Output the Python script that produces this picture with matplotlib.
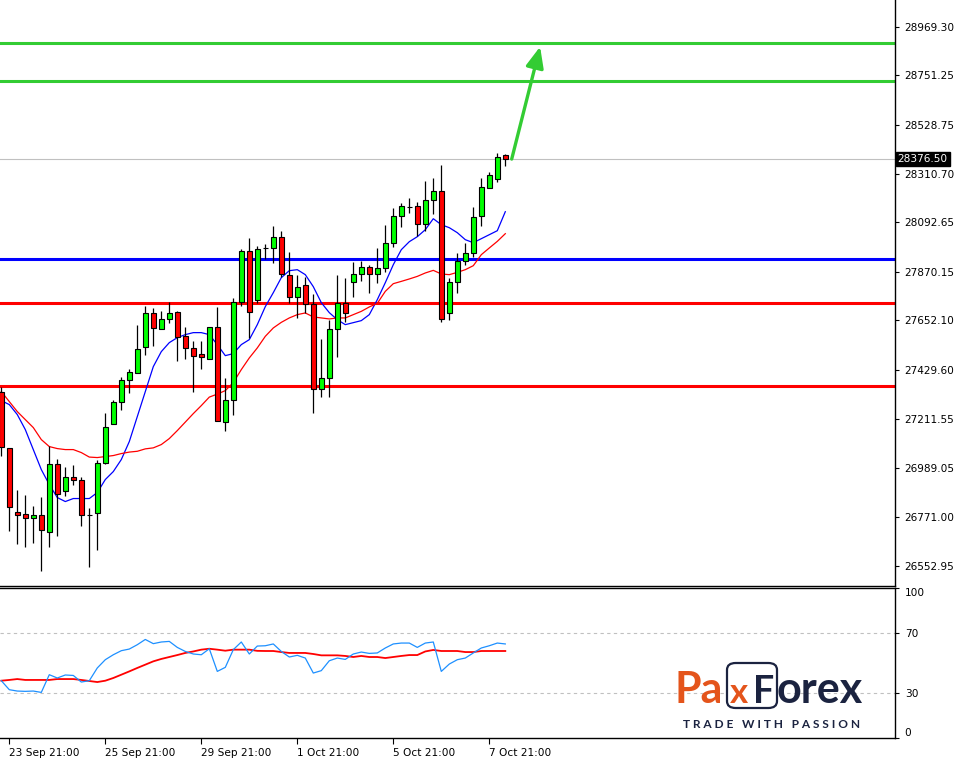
import matplotlib
matplotlib.use("Agg")
import matplotlib.pyplot as plt
import numpy as np
from matplotlib.patches import FancyBboxPatch
from matplotlib.transforms import blended_transform_factory

W, H = 966, 763

# ---------------- data ----------------
opens = [27333.0, 27081.9, 26795.0, 26786.0, 26768.1, 26781.6, 26705.3, 27010.2, 26889.1, 26951.9,
         26938.5, 26781.6, 26790.5, 27014.7, 27189.5, 27288.1, 27386.8, 27418.1, 27534.7, 27687.1,
         27615.4, 27660.2, 27691.6, 27584.0, 27530.2, 27503.3, 27480.9, 27624.4, 27198.5, 27297.1,
         27736.4, 27965.1, 27745.4, 27978.5, 27978.5, 28027.8, 27857.5, 27758.8, 27812.6, 27727.5,
         27346.4, 27395.7, 27615.4, 27732.0, 27826.1, 27862.0, 27893.3, 27862.0, 27888.9, 28000.9,
         28122.0, 28162.3, 28166.8, 28086.1, 28193.7, 28234.0, 27687.1, 27826.1, 27920.2, 27956.1,
         28122.0, 28247.5, 28287.8, 28395.4]
highs = [27355.4, 27081.9, 26893.6, 26871.2, 26821.9, 26862.2, 27090.9, 27032.6, 26996.7, 27005.7,
         26951.9, 26812.9, 27028.1, 27238.8, 27297.1, 27400.2, 27436.1, 27633.3, 27718.5, 27709.5,
         27696.1, 27736.4, 27696.1, 27624.4, 27561.6, 27561.6, 27624.4, 27714.0, 27395.7, 27754.4,
         27974.0, 28023.3, 27987.5, 27996.4, 28077.1, 28054.7, 27960.6, 27857.5, 27848.5, 27772.3,
         27570.6, 27655.7, 27857.5, 27844.0, 27915.8, 27920.2, 27902.3, 27978.5, 28081.6, 28157.8,
         28180.3, 28202.7, 28184.7, 28278.9, 28292.3, 28350.6, 27844.0, 27956.1, 28000.9, 28162.3,
         28292.3, 28319.2, 28404.4, 28399.9]
lows = [27046.1, 26709.8, 26651.5, 26638.1, 26656.0, 26530.5, 26638.1, 26687.4, 26866.7, 26916.0,
        26732.2, 26548.4, 26624.6, 27010.2, 27189.5, 27252.3, 27328.5, 27418.1, 27498.8, 27539.2,
        27615.4, 27642.3, 27471.9, 27480.9, 27333.0, 27436.1, 27480.9, 27203.0, 27158.1, 27229.9,
        27718.5, 27575.0, 27732.0, 27929.2, 27911.3, 27848.5, 27732.0, 27664.7, 27687.1, 27238.8,
        27310.5, 27310.5, 27489.9, 27646.8, 27758.8, 27830.6, 27776.8, 27821.6, 27870.9, 27983.0,
        28072.7, 28135.4, 28032.3, 28054.7, 28130.9, 27646.8, 27655.7, 27776.8, 27902.3, 27938.2,
        28077.1, 28247.5, 28274.4, 28346.1]
closes = [27086.4, 26817.4, 26781.6, 26768.1, 26781.6, 26714.3, 27010.2, 26875.7, 26951.9, 26938.5,
          26781.6, 26781.6, 27014.7, 27176.1, 27288.1, 27386.8, 27422.6, 27525.7, 27687.1, 27619.9,
          27660.2, 27687.1, 27579.5, 27530.2, 27494.3, 27489.9, 27624.4, 27203.0, 27297.1, 27736.4,
          27965.1, 27691.6, 27974.0, 27978.5, 28027.8, 27862.0, 27758.8, 27803.7, 27727.5, 27346.4,
          27395.7, 27615.4, 27732.0, 27687.1, 27862.0, 27893.3, 27862.0, 27888.9, 28000.9, 28122.0,
          28166.8, 28162.3, 28086.1, 28193.7, 28234.0, 27660.2, 27826.1, 27920.2, 27956.1, 28117.5,
          28252.0, 28305.8, 28386.5, 28376.5]

ma_fast = [27292.6, 27274.7, 27229.9, 27162.6, 27072.9, 26983.3, 26916.0, 26857.8, 26839.8, 26853.3,
           26853.3, 26853.3, 26880.2, 26938.5, 26974.3, 27028.1, 27108.8, 27220.9, 27333.0, 27445.0,
           27512.3, 27552.6, 27575.0, 27588.5, 27597.5, 27597.5, 27588.5, 27543.7, 27494.3, 27503.3,
           27543.7, 27566.1, 27633.3, 27714.0, 27776.8, 27844.0, 27875.4, 27879.9, 27857.5, 27803.7,
           27732.0, 27687.1, 27655.7, 27633.3, 27642.3, 27651.3, 27678.2, 27745.4, 27821.6, 27902.3,
           27969.5, 28005.4, 28027.8, 28059.2, 28108.5, 28081.6, 28068.2, 28045.8, 28014.4, 28000.9,
           28018.9, 28036.8, 28054.7, 28139.9]
ma_slow = [27333.0, 27288.1, 27243.3, 27207.4, 27171.6, 27117.8, 27086.4, 27077.4, 27072.9, 27072.9,
           27059.5, 27039.3, 27037.1, 27041.6, 27046.1, 27055.0, 27061.7, 27065.3, 27076.1, 27080.6,
           27095.4, 27122.3, 27158.1, 27196.2, 27234.3, 27270.2, 27308.3, 27321.8, 27337.4, 27373.3,
           27431.6, 27484.0, 27528.9, 27580.9, 27618.5, 27643.6, 27663.4, 27678.2, 27685.8, 27667.8,
           27663.4, 27658.9, 27663.4, 27663.4, 27678.2, 27692.9, 27712.7, 27728.8, 27782.6, 27817.1,
           27827.4, 27838.2, 27849.8, 27865.1, 27876.8, 27860.6, 27857.5, 27867.8, 27879.9, 27897.8,
           27947.1, 27977.2, 28006.8, 28041.3]

rsi = [38.2, 32.2, 31.3, 31.1, 31.3, 30.4, 42.2, 40.0, 42.0, 41.7,
       37.3, 38.2, 46.7, 52.2, 55.5, 58.2, 59.3, 62.2, 65.7, 62.9,
       64.0, 64.4, 60.4, 57.7, 56.0, 55.5, 59.5, 44.4, 47.1, 58.9,
       64.0, 56.0, 61.3, 61.5, 62.7, 57.7, 54.0, 55.1, 53.3, 43.3,
       44.9, 51.5, 53.3, 52.4, 56.0, 57.3, 56.4, 56.7, 60.0, 62.7,
       63.3, 63.3, 60.4, 63.3, 64.0, 44.4, 49.3, 52.2, 53.3, 56.7,
       60.0, 61.5, 63.3, 62.7]
rsi_signal = [38.2, 38.7, 39.3, 38.7, 38.7, 38.7, 38.7, 39.3, 39.3, 39.3,
              38.7, 38.0, 37.3, 38.2, 40.0, 42.2, 44.4, 46.7, 48.9, 51.1,
              52.7, 54.0, 55.3, 56.7, 57.7, 58.9, 59.5, 58.9, 58.2, 58.9,
              58.9, 58.9, 58.1, 58.0, 58.0, 57.3, 56.7, 56.7, 56.7, 56.0,
              55.1, 55.1, 55.1, 54.7, 54.0, 54.7, 54.0, 54.0, 53.3, 54.0,
              54.7, 55.3, 55.3, 57.7, 58.7, 58.0, 58.0, 58.0, 57.3, 57.3,
              58.0, 58.0, 58.0, 58.0]

levels_green = [28897.5, 28727.1]
level_blue = 27928.2
levels_red = [27729.5, 27358.5]
last_price = 28376.50
price_ticks = [28969.30, 28751.25, 28528.75, 28310.70, 28092.65, 27870.15,
               27652.10, 27429.60, 27211.55, 26989.05, 26771.00, 26552.95]
date_labels = ["23 Sep 21:00", "25 Sep 21:00", "29 Sep 21:00", "1 Oct 21:00", "5 Oct 21:00", "7 Oct 21:00"]
date_bars = [1, 13, 25, 37, 49, 61]
rsi_levels = [70, 30]
rsi_ticks = [100, 70, 30, 0]
arrow_start = (63.8, 28376.0)
arrow_end = (67.35, 28880.0)

# ---------------- figure ----------------
fig = plt.figure(figsize=(W / 100, H / 100), dpi=100)
fig.patch.set_facecolor("white")

AX_W = 895
ax = fig.add_axes([0, 1 - 586 / H, AX_W / W, 586 / H])
ax2 = fig.add_axes([0, 1 - 738 / H, AX_W / W, 150 / H])

x0 = -1.3 / 8
x1 = (AX_W - 1.3) / 8
for a in (ax, ax2):
    a.set_xlim(x0, x1)
    a.set_facecolor("white")
    a.spines["left"].set_visible(False)

ax.set_ylim(26461.0, 29089.5)
ax2.set_ylim(0, 100)

FS = 7.6
GREEN_C = "#00FF00"
RED_C = "#FF0000"
LINE_GREEN = "#33CC33"

# horizontal levels
for lv in levels_green:
    ax.axhline(lv, color=LINE_GREEN, lw=2.2, zorder=1)
ax.axhline(level_blue, color="#0000FF", lw=2.2, zorder=1)
for lv in levels_red:
    ax.axhline(lv, color="#FF0000", lw=2.2, zorder=1)
ax.axhline(last_price, color="#C0C0C0", lw=0.8, zorder=0.5)

# moving averages
idx = np.arange(len(opens))
ax.plot(idx, ma_fast, color="#0000FF", lw=0.9, zorder=2)
ax.plot(idx, ma_slow, color="#FF0000", lw=0.9, zorder=2)

# candles
o = np.array(opens); c = np.array(closes); h = np.array(highs); l = np.array(lows)
ax.vlines(idx, l, h, color="black", lw=0.9, zorder=3)
face = [GREEN_C if cc > oo else (RED_C if cc < oo else "black") for oo, cc in zip(o, c)]
ax.bar(idx, np.abs(c - o), bottom=np.minimum(o, c), width=0.62, color=face,
       edgecolor="black", linewidth=0.8, zorder=4)

# arrow
ax.annotate("", xy=arrow_end, xytext=arrow_start,
            arrowprops=dict(arrowstyle="-|>,head_length=0.7,head_width=0.3",
                            color=LINE_GREEN, lw=2.4, mutation_scale=18,
                            shrinkA=0, shrinkB=0), zorder=5)

# main axis styling
ax.set_xticks([])
ax.spines["top"].set_visible(False)
ax.yaxis.tick_right()
ax.set_yticks(price_ticks)
ax.set_yticklabels(["%.2f" % p for p in price_ticks], fontsize=FS)
ax.tick_params(axis="y", direction="out", length=3, pad=4, width=0.8, colors="black")
for s in ("right", "bottom"):
    ax.spines[s].set_linewidth(1.0)

# current price label
tr = blended_transform_factory(ax.transAxes, ax.transData)
ax.text(1.0 + 2.5 / AX_W, last_price, "%.2f" % last_price, transform=tr, fontsize=FS,
        color="white", va="center", ha="left", zorder=10, clip_on=False,
        bbox=dict(boxstyle="square,pad=0.18", facecolor="black", edgecolor="black"))

# RSI panel
for lv in rsi_levels:
    ax2.axhline(lv, color="#C0C0C0", lw=0.8, ls=(0, (3, 3)))
ax2.plot(idx, rsi_signal, color="#FF0000", lw=1.3, zorder=2)
ax2.plot(idx, rsi, color="#1E90FF", lw=0.9, zorder=3)
ax2.yaxis.tick_right()
ax2.set_yticks(rsi_ticks)
ax2.set_yticklabels([str(t) for t in rsi_ticks], fontsize=FS)
ax2.tick_params(axis="y", direction="out", length=3, pad=4, width=0.8)
labs = ax2.get_yticklabels()
labs[0].set_va("top")
labs[-1].set_va("bottom")
ax2.set_xticks(date_bars)
ax2.set_xticklabels(date_labels, fontsize=FS, ha="left")
ax2.tick_params(axis="x", direction="out", length=4, pad=3, width=0.8)
for s in ("right", "bottom", "top"):
    ax2.spines[s].set_linewidth(1.0)

# ---------------- logo ----------------
def fx(px):
    return px / W

def fy(py):
    return 1 - py / H

ORANGE = "#E4541B"
NAVY = "#1B2340"
logo_font = "Lato"
fig.text(fx(674), fy(703), "Pa", color=ORANGE, fontsize=31, fontweight="bold",
         family=logo_font, va="baseline", ha="left")
box = FancyBboxPatch((fx(727), fy(708)), fx(777) - fx(727), fy(663) - fy(708),
                     boxstyle="round,pad=0,rounding_size=0.009",
                     transform=fig.transFigure, facecolor="white",
                     edgecolor=NAVY, linewidth=1.6)
fig.add_artist(box)
fig.text(fx(730), fy(703), "x", color=ORANGE, fontsize=25, fontweight="bold",
         family=logo_font, va="baseline", ha="left")
fig.text(fx(753), fy(703), "F", color=NAVY, fontsize=27, fontweight="bold",
         family=logo_font, va="baseline", ha="left")
fig.text(fx(777), fy(703), "orex", color=NAVY, fontsize=31, fontweight="bold",
         family=logo_font, va="baseline", ha="left")
fig.text((fx(676) + fx(867)) / 2, fy(724), "T R A D E   W I T H   P A S S I O N",
         color=NAVY, fontsize=8.6, fontweight="bold", family=logo_font,
         va="center", ha="center")

fig.savefig("out.png", dpi=100, facecolor="white")
